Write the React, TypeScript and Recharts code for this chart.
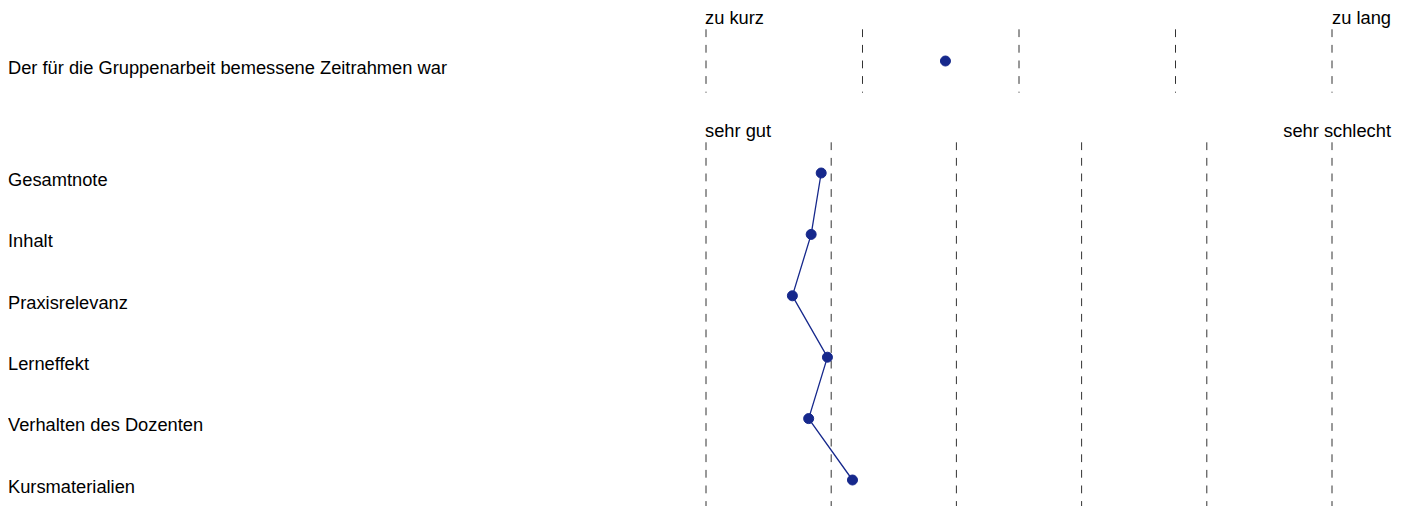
import { ComposedChart, Line, XAxis, YAxis, CartesianGrid } from "recharts";

// Zeitrahmen (Skala 1-5)
const timeItems = ["Der für die Gruppenarbeit bemessene Zeitrahmen war"];
const timeValues = [2.53];
const timeScale = [1, 2, 3, 4, 5];
const timeEnds = ["zu kurz", "zu lang"];

// Bewertungen (Skala 1-6)
const ratingItems = [
  "Gesamtnote",
  "Inhalt",
  "Praxisrelevanz",
  "Lerneffekt",
  "Verhalten des Dozenten",
  "Kursmaterialien",
];
const ratingValues = [1.92, 1.84, 1.69, 1.97, 1.82, 2.17];
const ratingScale = [1, 2, 3, 4, 5, 6];
const ratingEnds = ["sehr gut", "sehr schlecht"];

const FONT = "'Liberation Sans', Arial, sans-serif";
const BLUE = "#16288c";
const WIDTH = 1395;
const LABEL_W = 698;

function EndTick(props: any) {
  const { x, payload, index, labels, count, labelY } = props;
  if (index !== 0 && payload.value !== count) return null;
  const first = index === 0;
  return (
    <text
      x={first ? x - 1 : x + 59}
      y={labelY}
      textAnchor={first ? "start" : "end"}
      fontFamily={FONT}
      fontSize={18.3}
      fill="#000"
    >
      {first ? labels[0] : labels[1]}
    </text>
  );
}

function ItemTick(props: any) {
  const { y, payload } = props;
  return (
    <text x={0} y={y + 12.8} textAnchor="start" fontFamily={FONT} fontSize={18.3} fill="#000">
      {payload.value}
    </text>
  );
}

function Panel({
  items, values, scale, ends, height, axisH, bottom, labelY,
}: {
  items: string[]; values: number[]; scale: number[]; ends: string[];
  height: number; axisH: number; bottom: number; labelY: number;
}) {
  const data = items.map((name, i) => ({ name, value: values[i] }));
  const max = scale[scale.length - 1];
  return (
    <ComposedChart
      width={WIDTH}
      height={height}
      data={data}
      layout="vertical"
      margin={{ top: 0, right: 71, bottom, left: 0 }}
    >
      <CartesianGrid horizontal={false} stroke="#333" strokeDasharray="7.8 7.8" />
      <XAxis
        type="number"
        orientation="top"
        domain={[scale[0], max]}
        ticks={scale}
        height={axisH}
        axisLine={false}
        tickLine={false}
        interval={0}
        tick={<EndTick labels={ends} count={max} labelY={labelY} />}
      />
      <YAxis
        type="category"
        dataKey="name"
        scale="band"
        width={LABEL_W}
        axisLine={false}
        tickLine={false}
        interval={0}
        tick={<ItemTick />}
      />
      <Line
        dataKey="value"
        type="linear"
        stroke={BLUE}
        strokeWidth={1.3}
        dot={{ r: 5, fill: BLUE, stroke: BLUE, strokeWidth: 1 }}
        isAnimationActive={false}
      />
    </ComposedChart>
  );
}

export default function App() {
  return (
    <div style={{ width: WIDTH, height: 498, overflow: "hidden" }}>
      <Panel
        items={timeItems}
        values={timeValues}
        scale={timeScale}
        ends={timeEnds}
        height={100}
        axisH={21.3}
        bottom={15.3}
        labelY={16}
      />
      <Panel
        items={ratingItems}
        values={ratingValues}
        scale={ratingScale}
        ends={ratingEnds}
        height={420}
        axisH={34.3}
        bottom={17.3}
        labelY={29.3}
      />
    </div>
  );
}
